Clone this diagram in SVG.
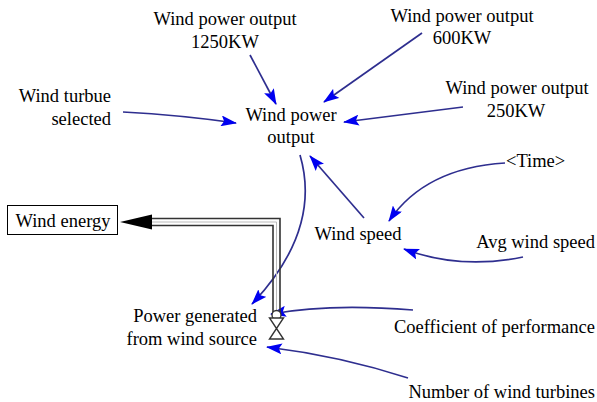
<svg xmlns="http://www.w3.org/2000/svg" width="597" height="402" viewBox="0 0 597 402">
<defs>
<style>
text{font-size:18.5px;fill:#000}
.c{text-anchor:middle}
.r{text-anchor:end}
.link{fill:none;stroke:#2e2e8f;stroke-width:1.7}
.pipe{fill:none;stroke:#333;stroke-width:1.6}
</style>
<marker id="ah" viewBox="0 0 16 11" refX="15" refY="5.5" markerWidth="16" markerHeight="11" markerUnits="userSpaceOnUse" orient="auto">
<path d="M0,0 L16,5.5 L0,11 L3,5.5 Z" fill="#0000f0"/>
</marker>
</defs>
<rect width="597" height="402" fill="#fff"/>

<g id="connectors">
<path class="link" marker-end="url(#ah)" d="M250,55 L276,104"/>
<path class="link" marker-end="url(#ah)" d="M422,33 L324,102"/>
<path class="link" marker-end="url(#ah)" d="M463,107 L344,122"/>
<path class="link" marker-end="url(#ah)" d="M123,112 Q180,115 236,123"/>
<path class="link" marker-end="url(#ah)" d="M505,163 Q425,168 389,221"/>
<path class="link" marker-end="url(#ah)" d="M364,218 L310,156"/>
<path class="link" marker-end="url(#ah)" d="M523,257 Q460,270 404,249"/>
<path class="link" marker-end="url(#ah)" d="M300,155 Q322,230 252,304"/>
<path class="link" marker-end="url(#ah)" d="M413,310 Q330,303 271,314"/>
<path class="link" marker-end="url(#ah)" d="M408,378 Q340,356 267,347"/>
</g>

<g id="flow">
<path class="pipe" d="M148,218.5 L280,218.5 L280,313"/>
<path class="pipe" d="M148,225.5 L273,225.5 L273,313"/>
<path d="M148,222 L276.5,222 L276.5,313" fill="none" stroke="#bbb" stroke-width="1"/>
<path d="M120,222 L152,214.5 L152,229.5 Z" fill="#000"/>
</g>

<g id="valve">
<circle cx="276.5" cy="315" r="4.5" fill="#fff" stroke="#333" stroke-width="1.4"/>
<path d="M269.5,318 L283.5,318 L269.5,339 L283.5,339 Z" fill="#fff" stroke="#333" stroke-width="1.4"/>
</g>

<g font-family="Liberation Serif, DejaVu Serif, serif">
<g id="wind-energy">
<rect x="7.5" y="205.5" width="110" height="29" fill="#fff" stroke="#000" stroke-width="1"/>
<text x="63" y="227" class="c">Wind energy</text>
</g>
<g id="wpo-1250">
<text x="225" y="25" class="c">Wind power output</text>
<text x="225" y="48" class="c">1250KW</text>
</g>
<g id="wpo-600">
<text x="462" y="22" class="c">Wind power output</text>
<text x="462" y="44" class="c">600KW</text>
</g>
<g id="wpo-250">
<text x="517" y="94" class="c">Wind power output</text>
<text x="516" y="117" class="c">250KW</text>
</g>
<g id="turbine-selected">
<text x="111" y="102" class="r">Wind turbue</text>
<text x="111" y="125" class="r">selected</text>
</g>
<g id="wind-power-output">
<text x="291" y="121" class="c">Wind power</text>
<text x="291" y="143" class="c">output</text>
</g>
<g id="time">
<text x="506" y="167">&lt;Time&gt;</text>
</g>
<g id="wind-speed">
<text x="358" y="240" class="c">Wind speed</text>
</g>
<g id="avg-wind-speed">
<text x="595" y="248" class="r">Avg wind speed</text>
</g>
<g id="power-generated">
<text x="257" y="322" class="r">Power generated</text>
<text x="257" y="345" class="r">from wind source</text>
</g>
<g id="coefficient">
<text x="595" y="333" class="r">Coefficient of performance</text>
</g>
<g id="num-turbines">
<text x="595" y="398" class="r">Number of wind turbines</text>
</g>
</g>
</svg>
